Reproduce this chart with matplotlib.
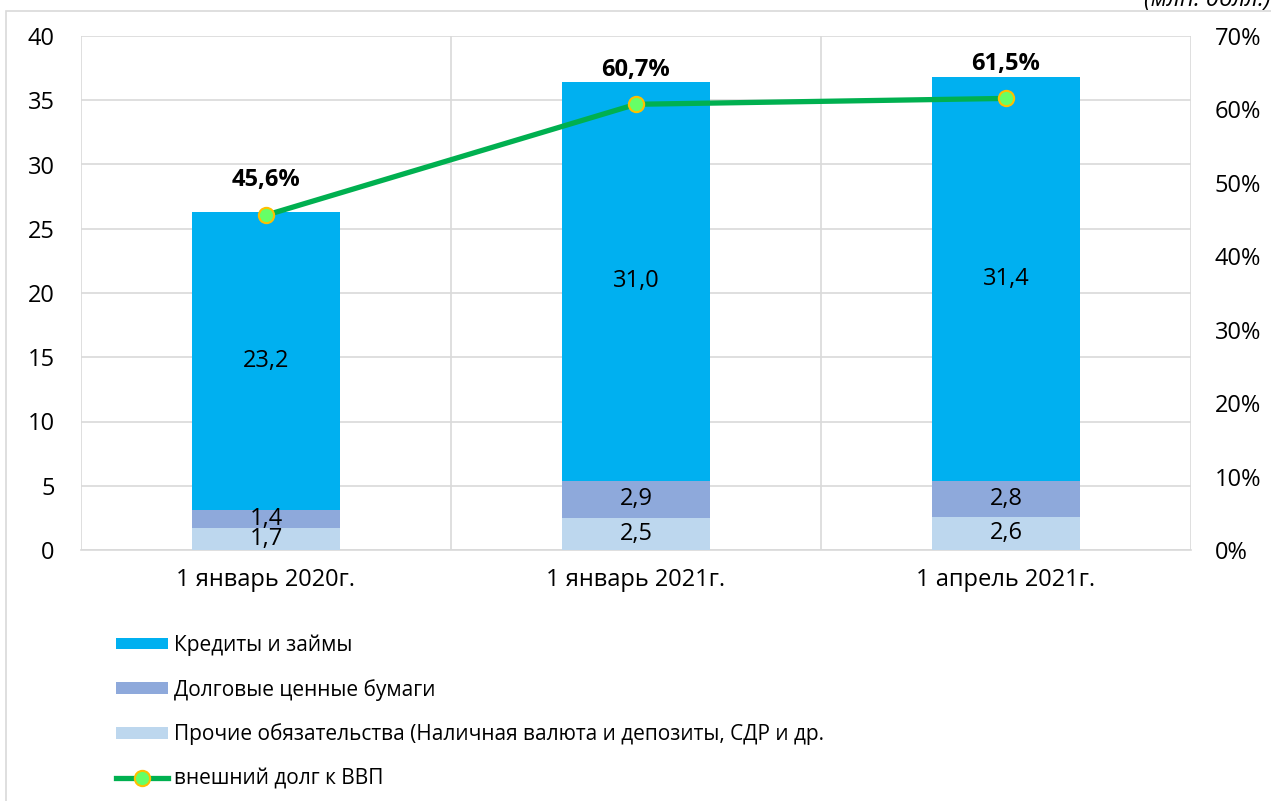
import matplotlib
matplotlib.use("Agg")
import matplotlib.pyplot as plt
from matplotlib.patches import Rectangle
import numpy as np

categories = ["1 январь 2020г.", "1 январь 2021г.", "1 апрель 2021г."]
other = [1.7, 2.5, 2.6]
securities = [1.4, 2.9, 2.8]
loans = [23.2, 31.0, 31.4]
debt_gdp = [45.6, 60.7, 61.5]
labels_series = ["Кредиты и займы", "Долговые ценные бумаги",
                 "Прочие обязательства (Наличная валюта и депозиты, СДР и др.",
                 "внешний долг к ВВП"]

plt.rcParams['font.family'] = ['Open Sans', 'DejaVu Sans']

fig = plt.figure(figsize=(12.71, 8.01), dpi=100)
fig.patches.append(Rectangle((6/1271, -0.01), 1.02, 1 - 11/801 + 0.01, transform=fig.transFigure,
                             fill=False, edgecolor="#D9D9D9", linewidth=1.2))
ax = fig.add_axes([81/1271, 1 - 550/801, (1191 - 81)/1271, (550 - 36)/801])
ax2 = ax.twinx()

x = np.arange(len(categories))
w = 0.40
c_loans, c_sec, c_oth = "#00B0F0", "#8EA9DB", "#BDD7EE"
b1 = ax.bar(x, other, w, color=c_oth, zorder=3, label=labels_series[2])
b2 = ax.bar(x, securities, w, bottom=other, color=c_sec, zorder=3, label=labels_series[1])
bot3 = np.array(other) + np.array(securities)
b3 = ax.bar(x, loans, w, bottom=bot3, color=c_loans, zorder=3, label=labels_series[0])

fs = 17
for i in range(len(x)):
    ax.text(x[i], other[i] / 2, f"{other[i]:.1f}".replace('.', ','), ha='center', va='center', fontsize=fs, zorder=5)
    ax.text(x[i], other[i] + securities[i] / 2, f"{securities[i]:.1f}".replace('.', ','), ha='center', va='center', fontsize=fs, zorder=5)
    ax.text(x[i], bot3[i] + loans[i] / 2, f"{loans[i]:.1f}".replace('.', ','), ha='center', va='center', fontsize=fs, zorder=5)

ax.set_xlim(-0.5, 2.5)
ax.set_ylim(0, 40)
ax.set_yticks(np.arange(0, 41, 5))
ax.set_xticks(x)
ax.set_xticklabels(categories)
ax.tick_params(axis='both', labelsize=fs, length=0)
ax.tick_params(axis='x', pad=13)
ax.tick_params(axis='y', pad=19)
ax.grid(axis='y', color="#D9D9D9", linewidth=1.2, zorder=0)
for xv in [-0.5, 0.5, 1.5, 2.5]:
    ax.axvline(xv, color="#D9D9D9", linewidth=1.2, zorder=0)
for s in ax.spines.values():
    s.set_visible(False)
for s in ax2.spines.values():
    s.set_visible(False)
ax.spines['bottom'].set_visible(True)
ax.spines['bottom'].set_color("#D9D9D9")
ax.spines['bottom'].set_linewidth(1.2)

ln, = ax2.plot(x, debt_gdp, color="#00B050", linewidth=3.8, marker='o', markersize=11,
               markerfacecolor="#66FF66", markeredgecolor="#FFC000", markeredgewidth=1.5,
               zorder=6, label=labels_series[3])
ax2.set_ylim(0, 70)
ax2.set_yticks(np.arange(0, 71, 10))
ax2.set_yticklabels([f"{v}%" for v in range(0, 71, 10)])
ax2.tick_params(axis='y', labelsize=fs, length=0, pad=17)
for i in range(len(x)):
    ax2.annotate(f"{debt_gdp[i]:.1f}%".replace('.', ','), (x[i], debt_gdp[i]),
                 xytext=(0, 25), textcoords='offset points', ha='center', va='center',
                 fontsize=fs, fontweight='bold')

fig.text(1.0, 1.0, "(млн. долл.)", ha='right', va='center', fontsize=fs, style='italic')

leg = fig.legend([b3, b2, b1, ln], labels_series, loc='upper left',
                 bbox_to_anchor=(108/1271, 1 - 626/801), frameon=False, fontsize=15,
                 handlelength=2.5, handleheight=0.5, labelspacing=1.1, handletextpad=0.25,
                 borderaxespad=0)

fig.savefig("out.png", dpi=100)
